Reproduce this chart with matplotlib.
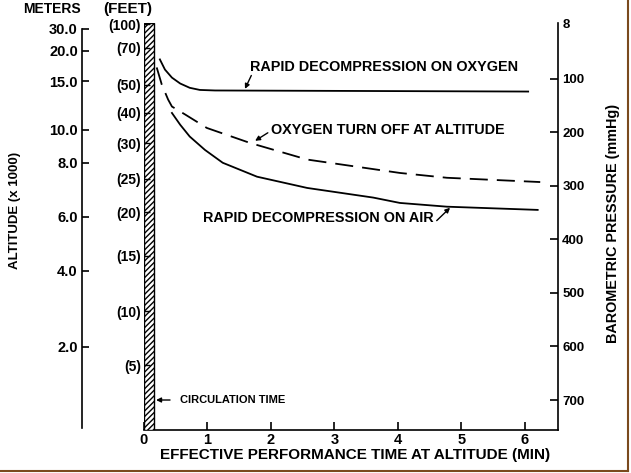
import matplotlib
matplotlib.use("Agg")
import matplotlib.pyplot as plt
from matplotlib.lines import Line2D

plt.rcParams["font.family"] = ["Liberation Sans", "DejaVu Sans"]
plt.rcParams["font.weight"] = "bold"

# =========================================================
# DADOS - eixo vertical em mmHg
# =========================================================

# tempo (min) x pressao barometrica (mmHg)
t_oxigenio = [0.25, 0.33, 0.44, 0.57, 0.72, 0.88, 1.12, 6.05]
p_oxigenio = [64, 83, 98, 109, 117, 121, 122, 124]

t_turnoff = [0.20, 0.28, 0.38, 0.44, 0.65, 0.99, 1.67, 2.57, 4.03, 4.77, 6.24]
p_turnoff = [79, 111, 139, 152, 167, 192, 220, 251, 276, 285, 293]

t_ar = [0.44, 0.57, 0.72, 0.96, 1.24, 1.78, 2.57, 3.61, 4.03, 4.77, 6.20]
p_ar = [164, 186, 208, 233, 257, 283, 304, 322, 332, 339, 345]

# escalas
x_ticks = [0, 1, 2, 3, 4, 5, 6]
pressao_ticks = [-4, 100, 200, 300, 400, 500, 600, 700]
pressao_labels = ["8", "100", "200", "300", "400", "500", "600", "700"]

metros_pos = [6.5, 48, 105, 195, 257, 358, 459, 601]
metros_labels = ["30.0", "20.0", "15.0", "10.0", "8.0", "6.0", "4.0", "2.0"]

pes_pos = [-2, 42, 111, 164, 221, 287, 349, 431, 534, 635]
pes_labels = ["(100)", "(70)", "(50)", "(40)", "(30)", "(25)", "(20)",
              "(15)", "(10)", "(5)"]

circulacao = 0.16
ylim = (756, -4)
xlim = (0, 6.52)

# =========================================================
# FIGURA
# =========================================================

W, H = 631, 473
fig = plt.figure(figsize=(W / 100, H / 100), dpi=100)
fig.patch.set_facecolor("white")

def fx(px):
    return px / W

def fy(py):
    return 1 - py / H

ax = fig.add_axes([fx(144), fy(430), fx(558) - fx(144), fy(23) - fy(430)])
ax.set_xlim(*xlim)
ax.set_ylim(*ylim)

# eixo em metros (linha separada a esquerda)
ax_m = ax.twinx()
ax_m.set_ylim(*ylim)
ax_m.set_xlim(*xlim)
for s in ["top", "right", "bottom"]:
    ax_m.spines[s].set_visible(False)
ax_m.spines["left"].set_visible(True)
ax_m.spines["left"].set_position(("outward", 62 * 0.72))
ax_m.spines["left"].set_bounds(metros_pos[0], 752)
ax_m.spines["left"].set_linewidth(1.2)
ax_m.yaxis.tick_left()
ax_m.set_yticks(metros_pos)
ax_m.set_yticklabels(metros_labels, fontsize=10.5, fontweight="bold")
ax_m.tick_params(axis="y", direction="in", length=5, width=1.2, pad=3)

# eixo em pes (sobre a barra hachurada)
ax_p = ax.twinx()
ax_p.set_ylim(*ylim)
ax_p.set_xlim(*xlim)
for s in ["top", "right", "bottom", "left"]:
    ax_p.spines[s].set_visible(False)
ax_p.yaxis.tick_left()
ax_p.set_yticks(pes_pos)
ax_p.set_yticklabels(pes_labels, fontsize=10, fontweight="bold")
ax_p.tick_params(axis="y", direction="in", length=4, width=1.0, pad=2)

# eixo principal: tempo x pressao (direita)
for s in ["top", "left"]:
    ax.spines[s].set_visible(False)
for s in ["bottom", "right"]:
    ax.spines[s].set_linewidth(1.2)

ax.set_xticks(x_ticks)
ax.set_xticklabels([str(v) for v in x_ticks], fontsize=10.5, fontweight="bold")
ax.tick_params(axis="x", direction="in", length=6, width=1.2, pad=2)

ax.yaxis.tick_right()
ax.set_yticks(pressao_ticks)
ax.set_yticklabels(pressao_labels, fontsize=9.5, fontweight="bold")
ax.tick_params(axis="y", direction="in", length=6, width=1.2, pad=3)
ax.yaxis.get_major_ticks()[0].tick2line.set_visible(False)

# barra hachurada (tempo de circulacao)
ax.axvspan(0, circulacao, facecolor="white", edgecolor="black",
           hatch="//////", linewidth=1.0, zorder=3)

# curvas
ax.plot(t_oxigenio, p_oxigenio, color="black", lw=1.3)
ax.plot(t_turnoff, p_turnoff, color="black", lw=1.3, dashes=(10, 5))
ax.plot(t_ar, p_ar, color="black", lw=1.3)

# anotacoes
seta = dict(arrowstyle="-|>", color="black", lw=1.0, mutation_scale=7,
            shrinkA=0, shrinkB=0)
ax.annotate("", xy=(1.59, 119), xytext=(1.69, 94), arrowprops=seta)
ax.text(1.67, 79, "RAPID DECOMPRESSION ON OXYGEN", fontsize=10.4,
        fontweight="bold", ha="left", va="center")

ax.annotate("", xy=(1.75, 216), xytext=(1.95, 201), arrowprops=seta)
ax.text(2.0, 195, "OXYGEN TURN OFF AT ALTITUDE", fontsize=10.4,
        fontweight="bold", ha="left", va="center")

ax.annotate("", xy=(4.82, 341), xytext=(4.61, 365), arrowprops=seta)
ax.text(0.93, 360, "RAPID DECOMPRESSION ON AIR", fontsize=10.4,
        fontweight="bold", ha="left", va="center")

ax.annotate("", xy=(0.19, 700), xytext=(0.41, 700), arrowprops=seta)
ax.text(0.57, 700, "CIRCULATION TIME", fontsize=8, fontweight="bold",
        ha="left", va="center")

# titulos dos eixos
fig.text(fx(52), fy(9), "METERS", fontsize=10, fontweight="bold",
         ha="center", va="center")
fig.text(fx(128), fy(9), "(FEET)", fontsize=11, fontweight="bold",
         ha="center", va="center")
fig.text(fx(15), fy(210), "ALTITUDE (x 1000)", fontsize=9.5,
         fontweight="bold", rotation=90, ha="center", va="center")
fig.text(fx(613), fy(223), "BAROMETRIC PRESSURE (mmHg)", fontsize=10.4,
         fontweight="bold", rotation=90, ha="center", va="center")
fig.text(fx(355), fy(455), "EFFECTIVE PERFORMANCE TIME AT ALTITUDE (MIN)",
         fontsize=11, fontweight="bold", ha="center", va="center")

# moldura marrom (direita e base)
marrom = "#7a4a1e"
fig.add_artist(Line2D([fx(628), fx(628)], [fy(0), fy(471)], color=marrom,
                      lw=1.5, transform=fig.transFigure))
fig.add_artist(Line2D([fx(0), fx(628)], [fy(471), fy(471)], color=marrom,
                      lw=1.5, transform=fig.transFigure))

fig.savefig("out.png", dpi=100, facecolor="white")
